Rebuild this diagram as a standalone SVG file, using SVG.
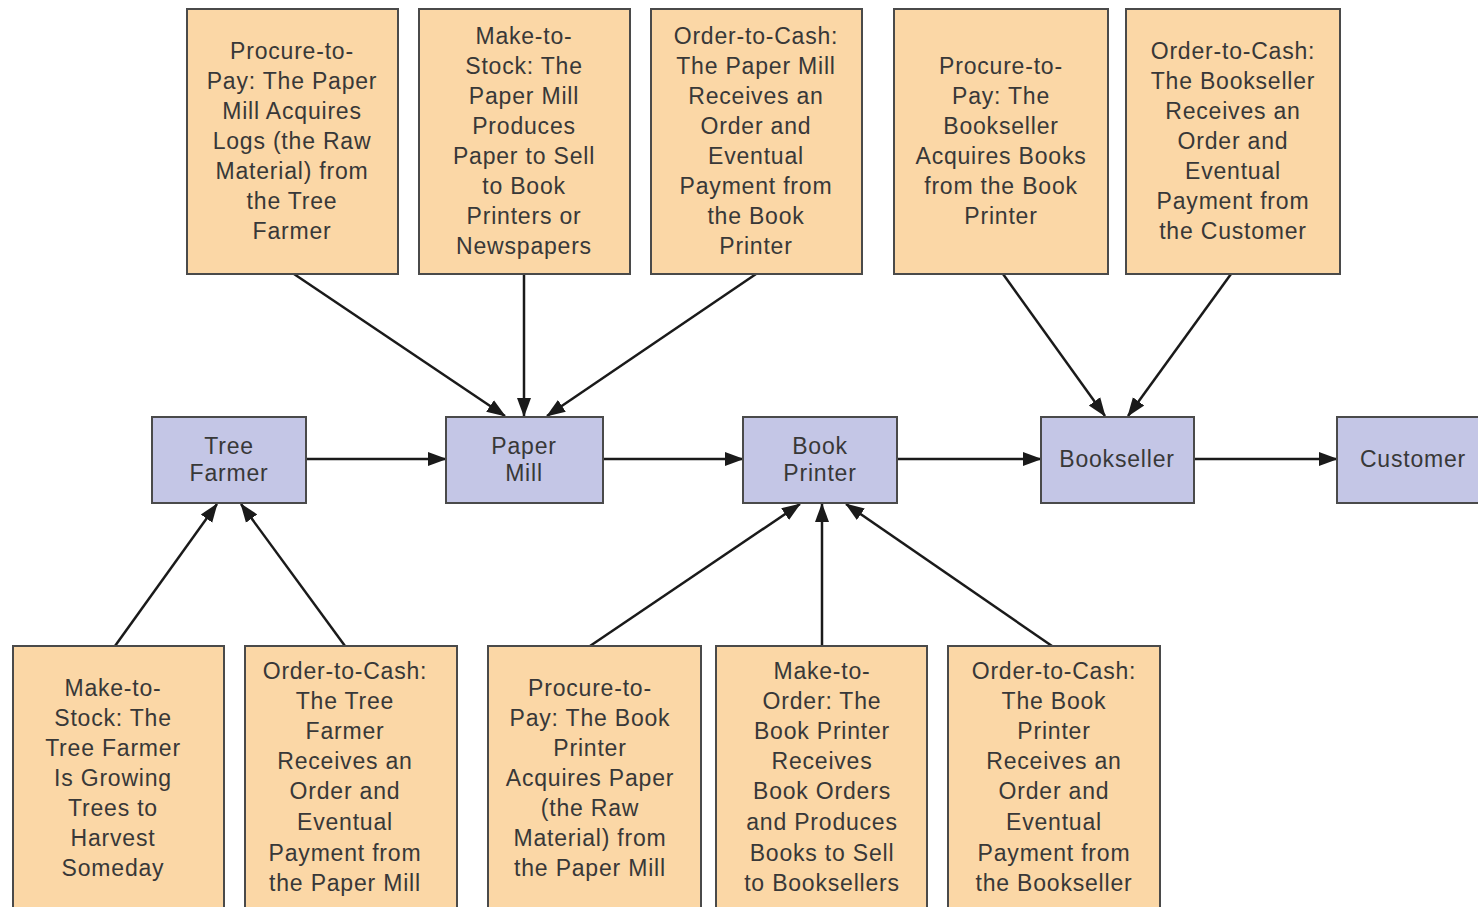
<svg xmlns="http://www.w3.org/2000/svg" width="1478" height="907" viewBox="0 0 1478 907">
  <defs>
    <style>
      .proc rect { fill: #fbd7a6; stroke: #4a4a4a; stroke-width: 2; }
      .actor rect { fill: #c4c6e6; stroke: #4a4a4a; stroke-width: 2; }
      text { font-family: "Liberation Sans", Arial, sans-serif; font-size: 23px; fill: #383838; text-anchor: middle; letter-spacing: 0.8px; }
      .conn line { stroke: #1a1a1a; stroke-width: 2.5; marker-end: url(#arrow); }
    </style>
    <marker id="arrow" markerUnits="userSpaceOnUse" markerWidth="20" markerHeight="18" refX="18" refY="9" orient="auto">
      <path d="M0,2 L19,9 L0,16 Z" fill="#1a1a1a"/>
    </marker>
  </defs>
  <rect width="1478" height="907" fill="#ffffff"/>

  <!-- connectors -->
  <g class="conn">
    <line x1="294" y1="274" x2="505" y2="416"/>
    <line x1="524" y1="274" x2="524" y2="416"/>
    <line x1="756" y1="274" x2="547" y2="416"/>
    <line x1="1003" y1="274" x2="1105" y2="416"/>
    <line x1="1231" y1="274" x2="1128" y2="416"/>
    <line x1="306" y1="459" x2="446" y2="459"/>
    <line x1="603" y1="459" x2="743" y2="459"/>
    <line x1="897" y1="459" x2="1041" y2="459"/>
    <line x1="1194" y1="459" x2="1337" y2="459"/>
    <line x1="115" y1="646" x2="217" y2="504"/>
    <line x1="345" y1="646" x2="241" y2="504"/>
    <line x1="590" y1="646" x2="800" y2="504"/>
    <line x1="822" y1="646" x2="822" y2="504"/>
    <line x1="1052" y1="646" x2="846" y2="504"/>
  </g>

  <!-- chain participants -->
  <g id="tree-farmer" class="actor">
    <rect x="152" y="417" width="154" height="86"/>
    <text x="229" y="454">Tree</text>
    <text x="229" y="481">Farmer</text>
  </g>
  <g id="paper-mill" class="actor">
    <rect x="446" y="417" width="157" height="86"/>
    <text x="524" y="454">Paper</text>
    <text x="524" y="481">Mill</text>
  </g>
  <g id="book-printer" class="actor">
    <rect x="743" y="417" width="154" height="86"/>
    <text x="820" y="454">Book</text>
    <text x="820" y="481">Printer</text>
  </g>
  <g id="bookseller" class="actor">
    <rect x="1041" y="417" width="153" height="86"/>
    <text x="1117" y="467">Bookseller</text>
  </g>
  <g id="customer" class="actor">
    <rect x="1337" y="417" width="160" height="86"/>
    <text x="1413" y="467">Customer</text>
  </g>

  <!-- processes above the chain -->
  <g id="p2p-paper-mill" class="proc">
    <rect x="187" y="9" width="211" height="265"/>
    <text x="292" y="59">Procure-to-</text>
    <text x="292" y="89">Pay: The Paper</text>
    <text x="292" y="119">Mill Acquires</text>
    <text x="292" y="149">Logs (the Raw</text>
    <text x="292" y="179">Material) from</text>
    <text x="292" y="209">the Tree</text>
    <text x="292" y="239">Farmer</text>
  </g>
  <g id="mts-paper-mill" class="proc">
    <rect x="419" y="9" width="211" height="265"/>
    <text x="524" y="44">Make-to-</text>
    <text x="524" y="74">Stock: The</text>
    <text x="524" y="104">Paper Mill</text>
    <text x="524" y="134">Produces</text>
    <text x="524" y="164">Paper to Sell</text>
    <text x="524" y="194">to Book</text>
    <text x="524" y="224">Printers or</text>
    <text x="524" y="254">Newspapers</text>
  </g>
  <g id="o2c-paper-mill" class="proc">
    <rect x="651" y="9" width="211" height="265"/>
    <text x="756" y="44">Order-to-Cash:</text>
    <text x="756" y="74">The Paper Mill</text>
    <text x="756" y="104">Receives an</text>
    <text x="756" y="134">Order and</text>
    <text x="756" y="164">Eventual</text>
    <text x="756" y="194">Payment from</text>
    <text x="756" y="224">the Book</text>
    <text x="756" y="254">Printer</text>
  </g>
  <g id="p2p-bookseller" class="proc">
    <rect x="894" y="9" width="214" height="265"/>
    <text x="1001" y="74">Procure-to-</text>
    <text x="1001" y="104">Pay: The</text>
    <text x="1001" y="134">Bookseller</text>
    <text x="1001" y="164">Acquires Books</text>
    <text x="1001" y="194">from the Book</text>
    <text x="1001" y="224">Printer</text>
  </g>
  <g id="o2c-bookseller" class="proc">
    <rect x="1126" y="9" width="214" height="265"/>
    <text x="1233" y="59">Order-to-Cash:</text>
    <text x="1233" y="89">The Bookseller</text>
    <text x="1233" y="119">Receives an</text>
    <text x="1233" y="149">Order and</text>
    <text x="1233" y="179">Eventual</text>
    <text x="1233" y="209">Payment from</text>
    <text x="1233" y="239">the Customer</text>
  </g>

  <!-- processes below the chain -->
  <g id="mts-tree-farmer" class="proc">
    <rect x="13" y="646" width="211" height="270"/>
    <text x="113" y="696">Make-to-</text>
    <text x="113" y="726">Stock: The</text>
    <text x="113" y="756">Tree Farmer</text>
    <text x="113" y="786">Is Growing</text>
    <text x="113" y="816">Trees to</text>
    <text x="113" y="846">Harvest</text>
    <text x="113" y="876">Someday</text>
  </g>
  <g id="o2c-tree-farmer" class="proc">
    <rect x="245" y="646" width="212" height="270"/>
    <text x="345" y="679">Order-to-Cash:</text>
    <text x="345" y="709">The Tree</text>
    <text x="345" y="739">Farmer</text>
    <text x="345" y="769">Receives an</text>
    <text x="345" y="799">Order and</text>
    <text x="345" y="830">Eventual</text>
    <text x="345" y="861">Payment from</text>
    <text x="345" y="891">the Paper Mill</text>
  </g>
  <g id="p2p-book-printer" class="proc">
    <rect x="488" y="646" width="213" height="270"/>
    <text x="590" y="696">Procure-to-</text>
    <text x="590" y="726">Pay: The Book</text>
    <text x="590" y="756">Printer</text>
    <text x="590" y="786">Acquires Paper</text>
    <text x="590" y="816">(the Raw</text>
    <text x="590" y="846">Material) from</text>
    <text x="590" y="876">the Paper Mill</text>
  </g>
  <g id="mto-book-printer" class="proc">
    <rect x="716" y="646" width="211" height="270"/>
    <text x="822" y="679">Make-to-</text>
    <text x="822" y="709">Order: The</text>
    <text x="822" y="739">Book Printer</text>
    <text x="822" y="769">Receives</text>
    <text x="822" y="799">Book Orders</text>
    <text x="822" y="830">and Produces</text>
    <text x="822" y="861">Books to Sell</text>
    <text x="822" y="891">to Booksellers</text>
  </g>
  <g id="o2c-book-printer" class="proc">
    <rect x="948" y="646" width="212" height="270"/>
    <text x="1054" y="679">Order-to-Cash:</text>
    <text x="1054" y="709">The Book</text>
    <text x="1054" y="739">Printer</text>
    <text x="1054" y="769">Receives an</text>
    <text x="1054" y="799">Order and</text>
    <text x="1054" y="830">Eventual</text>
    <text x="1054" y="861">Payment from</text>
    <text x="1054" y="891">the Bookseller</text>
  </g>
</svg>
